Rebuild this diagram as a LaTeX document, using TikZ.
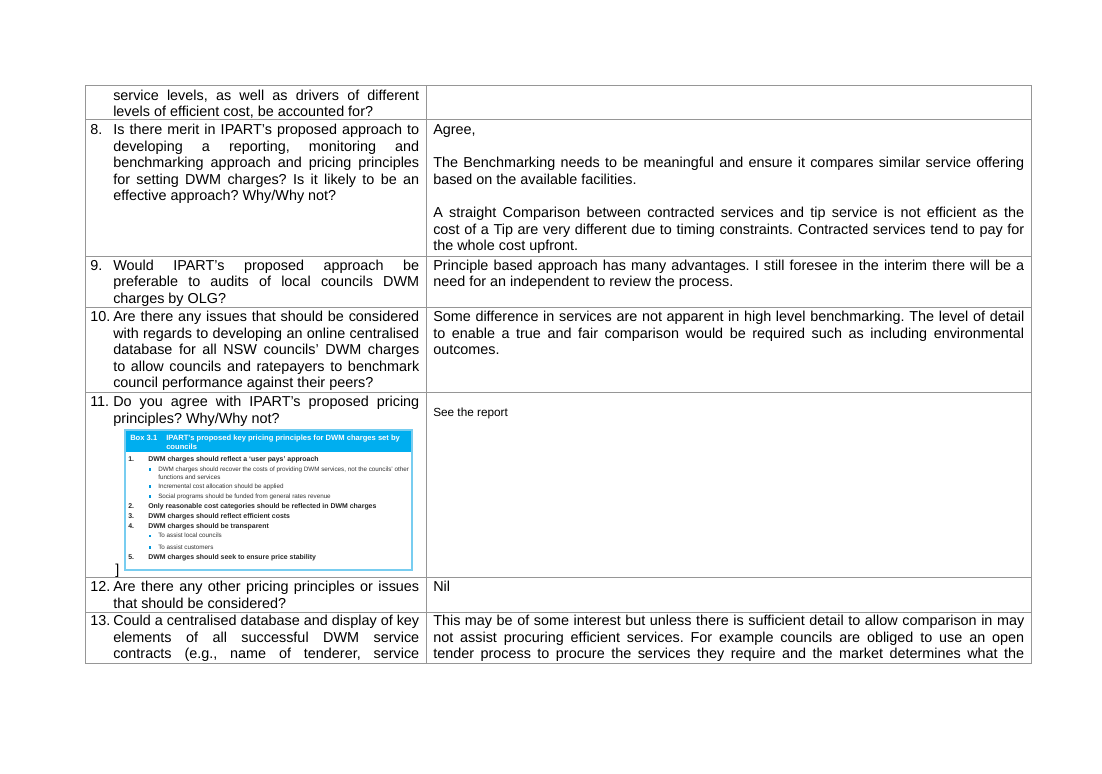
\documentclass[tikz,border=0pt]{standalone}
\usepackage{fontspec}
\setmainfont{Liberation Sans}
\definecolor{gridc}{RGB}{150,150,150}
\definecolor{boxblue}{RGB}{0,174,239}
\definecolor{boxline}{RGB}{120,205,240}
\definecolor{bultc}{RGB}{0,150,220}
\newlength{\colw}
\newcommand{\jl}[1]{\hbox to \colw{\spaceskip=0.2778em plus 2em\xspaceskip=\spaceskip\strut #1}}
\newcommand{\el}[1]{\hbox to \colw{\strut #1\hfil}}
\newcommand{\bl}{\hbox to \colw{\strut\hfil}}
\tikzset{
  x=0.76407pt, y=-0.76407pt,
  bodyfont/.style={font=\fontsize{11pt}{12.68pt}\selectfont\frenchspacing},
  cellL/.style={font=\fontsize{11pt}{12.68pt}\selectfont\frenchspacing\setlength{\colw}{233.8pt}, anchor=base west, inner sep=0pt},
  cellR/.style={font=\fontsize{11pt}{12.68pt}\selectfont\frenchspacing\setlength{\colw}{451.6pt}, anchor=base west, inner sep=0pt},
  num/.style={bodyfont, anchor=base west, inner sep=0pt},
  gridline/.style={draw=gridc, line width=0.75pt},
  boxhead/.style={anchor=base west, inner sep=0pt, text=white, font=\fontsize{5.8pt}{6.5pt}\selectfont\bfseries},
  boxitem/.style={anchor=base west, inner sep=0pt, text=black!85, font=\fontsize{5.3pt}{6pt}\selectfont\bfseries},
  boxsub/.style={anchor=base west, inner sep=0pt, text=black!80, font=\fontsize{4.8pt}{5.5pt}\selectfont},
  bult/.style={fill=bultc, minimum size=1.9pt, inner sep=0pt, draw=none},
}
% a cell: a \vtop of lines whose baseline is the first line's baseline
\newcommand{\cell}[1]{\vtop{\baselineskip=12.68pt\lineskiplimit=-20pt #1}}
\begin{document}
\begin{tikzpicture}
\useasboundingbox (0,0) rectangle (1102,773);
\fill[white] (0,0) rectangle (1102,773);

% ---- table grid ----
\draw[gridline] (85,85) rectangle (1031,663);
\draw[gridline] (426,85) -- (426,663);
\foreach \yy in {119,256,307,392,577,612}
  \draw[gridline] (85,\yy) -- (1031,\yy);

% ---- row 0 (continued) ----
\node[cellL] (r0L) at (113,100) {\cell{%
\jl{service levels, as well as drivers of different}
\el{levels of efficient cost, be accounted for?}}};

% ---- row 8 ----
\node[num] (n8) at (90,134.5) {8.};
\node[cellL] (r8L) at (113,134.5) {\cell{%
\jl{Is there merit in IPART’s proposed approach to}
\jl{developing a reporting, monitoring and}
\jl{benchmarking approach and pricing principles}
\jl{for setting DWM charges? Is it likely to be an}
\el{effective approach? Why/Why not?}}};
\node[cellR] (r8R) at (433,134.5) {\cell{%
\el{Agree,}
\bl
\jl{The Benchmarking needs to be meaningful and ensure it compares similar service offering}
\el{based on the available facilities.}
\bl
\jl{A straight Comparison between contracted services and tip service is not efficient as the}
\jl{cost of a Tip are very different due to timing constraints. Contracted services tend to pay for}
\el{the whole cost upfront.}}};

% ---- row 9 ----
\node[num] (n9) at (90,270) {9.};
\node[cellL] (r9L) at (113,270) {\cell{%
\jl{Would IPART’s proposed approach be}
\jl{preferable to audits of local councils DWM}
\el{charges by OLG?}}};
\node[cellR] (r9R) at (433,270) {\cell{%
\jl{Principle based approach has many advantages. I still foresee in the interim there will be a}
\el{need for an independent to review the process.}}};

% ---- row 10 ----
\node[num] (n10) at (90,321.5) {10.};
\node[cellL] (r10L) at (113,321.5) {\cell{%
\jl{Are there any issues that should be considered}
\jl{with regards to developing an online centralised}
\jl{database for all NSW councils’ DWM charges}
\jl{to allow councils and ratepayers to benchmark}
\el{council performance against their peers?}}};
\node[cellR] (r10R) at (433,321.5) {\cell{%
\jl{Some difference in services are not apparent in high level benchmarking. The level of detail}
\jl{to enable a true and fair comparison would be required such as including environmental}
\el{outcomes.}}};

% ---- row 11 ----
\node[num] (n11) at (90,406.5) {11.};
\node[cellL] (r11L) at (113,406.5) {\cell{%
\jl{Do you agree with IPART’s proposed pricing}
\el{principles? Why/Why not?}}};
\node[anchor=base west, inner sep=0pt, font=\fontsize{9pt}{11pt}\selectfont] (r11R) at (433,416) {See the report};

% Box 3.1 picture
\fill[boxblue] (125,430) rectangle (412,452);
\draw[boxline, line width=0.9pt] (125,430) rectangle (412,570);
\node[boxhead] (bxa) at (130,440) {Box 3.1};
\node[boxhead] (bxb) at (166,440) {IPART’s proposed key pricing principles for DWM charges set by};
\node[boxhead] (bxc) at (166,449) {councils};

\node[boxitem] (i1n) at (128,461) {1.};
\node[boxitem] (i1) at (148,461) {DWM charges should reflect a ‘user pays’ approach};
\node[bult] (b1) at (150,469.5) {};
\node[boxsub] (s1a) at (158,471) {DWM charges should recover the costs of providing DWM services, not the councils’ other};
\node[boxsub] (s1b) at (158,479) {functions and services};
\node[bult] (b2) at (150,486.5) {};
\node[boxsub] (s2) at (158,488) {Incremental cost allocation should be applied};
\node[bult] (b3) at (150,496.5) {};
\node[boxsub] (s3) at (158,498) {Social programs should be funded from general rates revenue};
\node[boxitem] (i2n) at (128,508) {2.};
\node[boxitem] (i2) at (148,508) {Only reasonable cost categories should be reflected in DWM charges};
\node[boxitem] (i3n) at (128,518) {3.};
\node[boxitem] (i3) at (148,518) {DWM charges should reflect efficient costs};
\node[boxitem] (i4n) at (128,528) {4.};
\node[boxitem] (i4) at (148,528) {DWM charges should be transparent};
\node[bult] (b4) at (150,536) {};
\node[boxsub] (s4) at (158,537.5) {To assist local councils};
\node[bult] (b5) at (150,547.5) {};
\node[boxsub] (s5) at (158,549) {To assist customers};
\node[boxitem] (i5n) at (128,559) {5.};
\node[boxitem] (i5) at (148,559) {DWM charges should seek to ensure price stability};

\node[num] (brk) at (115,574) {]};

% ---- row 12 ----
\node[num] (n12) at (90,591.5) {12.};
\node[cellL] (r12L) at (113,591.5) {\cell{%
\jl{Are there any other pricing principles or issues}
\el{that should be considered?}}};
\node[cellR] (r12R) at (433,591.5) {\cell{\el{Nil}}};

% ---- row 13 ----
\node[num] (n13) at (90,625.5) {13.};
\node[cellL] (r13L) at (113,625.5) {\cell{%
\jl{Could a centralised database and display of key}
\jl{elements of all successful DWM service}
\jl{contracts (e.g., name of tenderer, service}}};
\node[cellR] (r13R) at (433,625.5) {\cell{%
\jl{This may be of some interest but unless there is sufficient detail to allow comparison in may}
\jl{not assist procuring efficient services. For example councils are obliged to use an open}
\jl{tender process to procure the services they require and the market determines what the}}};
\end{tikzpicture}
\end{document}
